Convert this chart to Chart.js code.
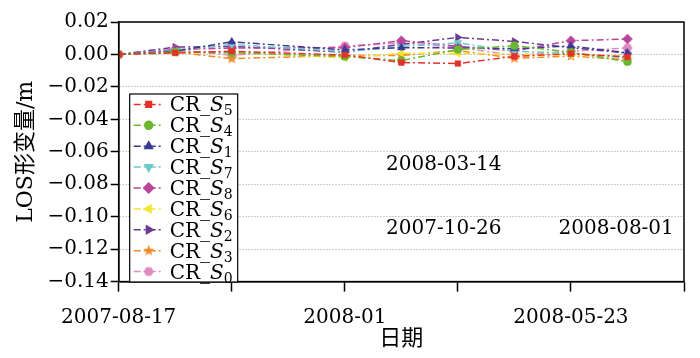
<!DOCTYPE html>
<html><head><meta charset="utf-8">
<script src="https://cdn.jsdelivr.net/npm/chart.js@4.4.1/dist/chart.umd.min.js"></script>
<style>html,body{margin:0;padding:0;background:#fff}#wrap{width:700px;height:358px;position:relative}</style>
</head><body><div id="wrap"><canvas id="c" width="700" height="358" style="width:700px;height:358px"></canvas></div>
<script>
// ---- data ----
const dates = ['2007-08-17','2007-09-21','2007-10-26','2007-11-30','2008-01-04','2008-02-08','2008-03-14','2008-04-18','2008-05-23','2008-06-27','2008-08-01'];
const sampleIdx = [0,1,2,4,5,6,7,8,9];
const axisTickLabels = {0:'2007-08-17', 4:'2008-01', 8:'2008-05-23'};
const noteLabels = ['2008-03-14','2007-10-26','2008-08-01'];
const noteX = [5.75, 5.75, 8.8];
const noteY = [-0.068, -0.1076, -0.1076];
const seriesSub = ['5','4','1','7','8','6','2','3','0'];
const S5 = [0, 0.0010, 0.0020, -0.0003, -0.0050, -0.0056, -0.0012, 0.0005, -0.0015];
const S4 = [0, 0.0015, 0.0010, -0.0012, -0.0038, 0.0030, 0.0054, 0.0014, -0.0045];
const S1 = [0, 0.0020, 0.0078, 0.0028, 0.0042, 0.0040, 0.0036, 0.0052, 0.0010];
const S7 = [0, 0.0025, 0.0062, 0.0018, 0.0048, 0.0072, 0.0020, 0.0008, -0.0022];
const S8 = [0, 0.0030, 0.0040, 0.0042, 0.0085, 0.0050, 0.0022, 0.0085, 0.0095];
const S6 = [0, 0.0010, 0.0015, -0.0022, 0.0008, 0.0006, 0.0002, -0.0005, -0.0010];
const S2 = [0, 0.0045, 0.0050, 0.0014, 0.0062, 0.0105, 0.0080, 0.0042, 0.0008];
const S3 = [0, 0.0015, -0.0026, -0.0006, -0.0006, 0.0024, -0.0024, -0.0010, -0.0032];
const S0 = [0, 0.0030, -0.0005, 0.0052, 0.0070, 0.0044, -0.0006, 0.0020, 0.0040];
const seriesValues = [S5, S4, S1, S7, S8, S6, S2, S3, S0];
const colors = ['#e5312b','#6cb630','#3d3a94','#6fcac8','#b8469b','#f2e530','#6b3a93','#f08a2c','#e08bc0'];

// ---- custom marker images ----
function polyImage(color, n, rOuter, rInner, rot) {
  const s = 12, c = document.createElement('canvas');
  c.width = s; c.height = s;
  const g = c.getContext('2d');
  g.beginPath();
  const pts = rInner ? n * 2 : n;
  for (let i = 0; i < pts; i++) {
    const r = rInner ? (i % 2 ? rInner : rOuter) : rOuter;
    const a = -Math.PI / 2 + rot + i * 2 * Math.PI / pts;
    const x = s / 2 + r * Math.cos(a), y = s / 2 + r * Math.sin(a);
    i ? g.lineTo(x, y) : g.moveTo(x, y);
  }
  g.closePath();
  g.fillStyle = color; g.fill();
  return c;
}
const starImg = polyImage(colors[7], 5, 5.8, 2.5, 0);
const hexImg = polyImage(colors[8], 6, 5, 0, Math.PI / 6);
const styles = ['rect','circle','triangle','triangle','rectRot','triangle','triangle', starImg, hexImg];
const rotations = [0,0,0,180,0,-90,90,0,0];
const radii = [4,4,4.5,4.5,5,4.5,4.5,5,5];

const FONT = "'DejaVu Serif', 'Noto Sans CJK SC', serif";

const datasets = seriesValues.map((vals, k) => ({
  label: 'CR_S' + seriesSub[k],
  data: vals.map((v, i) => ({x: sampleIdx[i], y: v})),
  borderColor: colors[k],
  backgroundColor: colors[k],
  pointBackgroundColor: colors[k],
  pointBorderColor: colors[k],
  borderWidth: 1.5,
  borderDash: [7, 3, 2, 3],
  pointStyle: styles[k],
  pointRotation: rotations[k],
  pointRadius: radii[k],
  pointBorderWidth: 0.5,
  tension: 0
}));

// ---- plugins ----
const framePlugin = {
  id: 'frame',
  afterDatasetsDraw(chart) {
    const {ctx, chartArea: a} = chart;
    ctx.save();
    ctx.strokeStyle = '#000'; ctx.lineWidth = 1.5;
    ctx.strokeRect(a.left, a.top, a.right - a.left, a.bottom - a.top);
    ctx.restore();
  }
};

const notesPlugin = {
  id: 'notes',
  afterDatasetsDraw(chart) {
    const {ctx, scales: {x, y}} = chart;
    ctx.save();
    ctx.font = '20px ' + FONT;
    ctx.fillStyle = '#000';
    ctx.textAlign = 'center'; ctx.textBaseline = 'middle';
    noteLabels.forEach((t, i) => ctx.fillText(t, x.getPixelForValue(noteX[i]), y.getPixelForValue(noteY[i])));
    ctx.restore();
  }
};

function drawMarker(ctx, ds, x, y) {
  if (Chart.helpers && Chart.helpers.drawPoint) {
    Chart.helpers.drawPoint(ctx, {pointStyle: ds.pointStyle, rotation: ds.pointRotation, radius: ds.pointRadius, borderWidth: ds.pointBorderWidth}, x, y);
  } else {
    ctx.beginPath(); ctx.arc(x, y, ds.pointRadius, 0, 2 * Math.PI); ctx.fill();
  }
}

const legendPlugin = {
  id: 'boxLegend',
  afterDraw(chart) {
    const {ctx, chartArea: a} = chart;
    const bx = a.left + 11, by = a.top + 72, bw = 108, bh = 188;
    const rowH = bh / datasets.length;
    ctx.save();
    ctx.fillStyle = '#fff';
    ctx.fillRect(bx, by, bw, bh);
    ctx.strokeStyle = '#000'; ctx.lineWidth = 1.2;
    ctx.strokeRect(bx, by, bw, bh);
    chart.data.datasets.forEach((ds, i) => {
      const cy = by + rowH * (i + 0.5);
      ctx.save();
      ctx.strokeStyle = ds.borderColor; ctx.lineWidth = 1.5;
      ctx.setLineDash([7, 3, 2, 3]);
      ctx.beginPath(); ctx.moveTo(bx + 4, cy); ctx.lineTo(bx + 34, cy); ctx.stroke();
      ctx.setLineDash([]);
      ctx.fillStyle = ds.borderColor; ctx.strokeStyle = ds.borderColor;
      drawMarker(ctx, ds, bx + 19, cy);
      ctx.restore();
      ctx.fillStyle = '#000';
      ctx.textBaseline = 'alphabetic'; ctx.textAlign = 'left';
      let tx = bx + 40;
      const base = cy + 7;
      ctx.font = '20px ' + FONT;
      ctx.fillText('CR_', tx, base); tx += ctx.measureText('CR_').width;
      ctx.font = 'italic 20px ' + FONT;
      ctx.fillText('S', tx, base); tx += ctx.measureText('S').width;
      ctx.font = '14px ' + FONT;
      ctx.fillText(seriesSub[i], tx, base + 4);
    });
    ctx.restore();
  }
};

new Chart(document.getElementById('c'), {
  type: 'line',
  data: {datasets},
  options: {
    responsive: false,
    devicePixelRatio: 1,
    animation: false,
    layout: {padding: {left: 13, right: 16, top: 22, bottom: 6}},
    plugins: {legend: {display: false}, tooltip: {enabled: false}},
    scales: {
      x: {
        type: 'linear', min: 0, max: 10,
        ticks: {stepSize: 2, autoSkip: false, maxRotation: 0, color: '#000',
          font: {family: FONT, size: 20}, padding: 14,
          callback: v => axisTickLabels[v] || ''},
        grid: {drawOnChartArea: false, drawTicks: true, tickLength: 10, color: '#000', tickColor: '#000', tickWidth: 1.5},
        border: {display: true, color: '#000', width: 1.5},
        title: {display: true, text: '日期', color: '#000', font: {family: FONT, size: 22}, padding: {top: -18, bottom: 0}}
      },
      y: {
        min: -0.14, max: 0.02,
        ticks: {stepSize: 0.02, color: '#000', font: {family: FONT, size: 20}, padding: 2,
          callback: v => Math.abs(v) < 1e-9 ? '0.00' : (v < 0 ? '\u2212' : '') + Math.abs(v).toFixed(2)},
        grid: {color: '#9a9a9a', lineWidth: 1, tickColor: '#000', tickLength: 8, tickWidth: 1.5, tickBorderDash: []},
        border: {display: true, color: '#000', width: 1.5, dash: [1, 2]},
        title: {display: true, text: 'LOS形变量/m', color: '#000', font: {family: FONT, size: 22}, padding: {top: 0, bottom: 6}}
      }
    }
  },
  plugins: [framePlugin, notesPlugin, legendPlugin]
});
</script>
</body></html>
